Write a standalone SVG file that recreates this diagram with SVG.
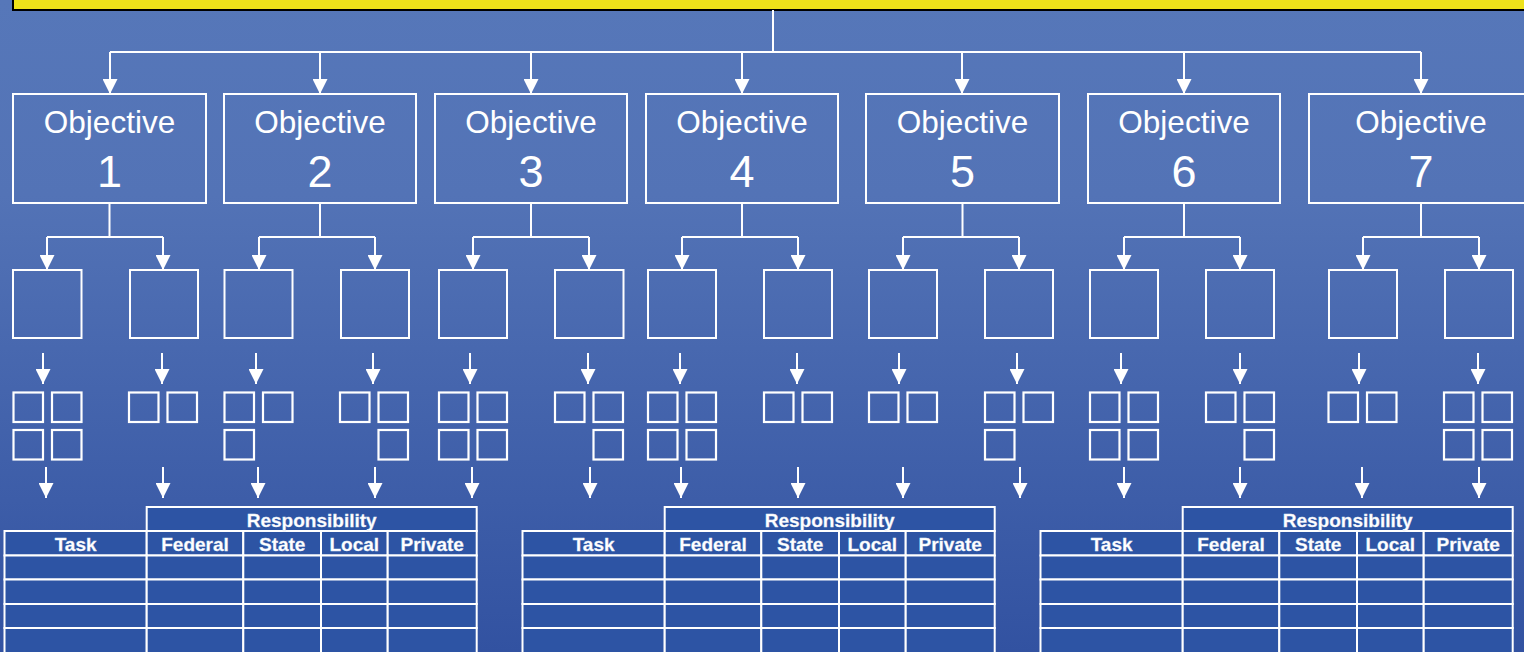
<svg xmlns="http://www.w3.org/2000/svg" width="1524" height="652" viewBox="0 0 1524 652" font-family="Liberation Sans, Arial, Helvetica, sans-serif">
<defs>
<linearGradient id="bg" x1="0" y1="0" x2="0" y2="1">
<stop offset="0" stop-color="#5677b9"/>
<stop offset="0.3" stop-color="#5373b6"/>
<stop offset="1" stop-color="#3252a1"/>
</linearGradient>
<marker id="ah" viewBox="0 0 15 15" refX="15" refY="7.5" markerWidth="15" markerHeight="15" markerUnits="userSpaceOnUse" orient="auto">
<path d="M0,0 L15,7.5 L0,15 z" fill="#ffffff"/>
</marker>
<g id="tbl">
<rect class="cell" x="146.7" y="507" width="330" height="24"/>
<rect class="cell" x="4.5" y="531" width="142.2" height="24.5"/>
<rect class="cell" x="146.7" y="531" width="96.6" height="24.5"/>
<rect class="cell" x="243.3" y="531" width="77.7" height="24.5"/>
<rect class="cell" x="321" y="531" width="66.7" height="24.5"/>
<rect class="cell" x="387.7" y="531" width="89" height="24.5"/>
<rect class="cell" x="4.5" y="555.5" width="142.2" height="24"/>
<rect class="cell" x="146.7" y="555.5" width="96.6" height="24"/>
<rect class="cell" x="243.3" y="555.5" width="77.7" height="24"/>
<rect class="cell" x="321" y="555.5" width="66.7" height="24"/>
<rect class="cell" x="387.7" y="555.5" width="89" height="24"/>
<rect class="cell" x="4.5" y="579.5" width="142.2" height="24.5"/>
<rect class="cell" x="146.7" y="579.5" width="96.6" height="24.5"/>
<rect class="cell" x="243.3" y="579.5" width="77.7" height="24.5"/>
<rect class="cell" x="321" y="579.5" width="66.7" height="24.5"/>
<rect class="cell" x="387.7" y="579.5" width="89" height="24.5"/>
<rect class="cell" x="4.5" y="604" width="142.2" height="24"/>
<rect class="cell" x="146.7" y="604" width="96.6" height="24"/>
<rect class="cell" x="243.3" y="604" width="77.7" height="24"/>
<rect class="cell" x="321" y="604" width="66.7" height="24"/>
<rect class="cell" x="387.7" y="604" width="89" height="24"/>
<rect class="cell" x="4.5" y="628" width="142.2" height="40"/>
<rect class="cell" x="146.7" y="628" width="96.6" height="40"/>
<rect class="cell" x="243.3" y="628" width="77.7" height="40"/>
<rect class="cell" x="321" y="628" width="66.7" height="40"/>
<rect class="cell" x="387.7" y="628" width="89" height="40"/>
<text class="th" x="311.7" y="526.5">Responsibility</text>
<text class="th" x="75.6" y="550.5">Task</text>
<text class="th" x="195" y="550.5">Federal</text>
<text class="th" x="282.2" y="550.5">State</text>
<text class="th" x="354.3" y="550.5">Local</text>
<text class="th" x="432.2" y="550.5">Private</text>
</g>
</defs>
<style>
.box{fill:none;stroke:#ffffff;stroke-width:2}
.sq{fill:none;stroke:#ffffff;stroke-width:2.2}
.con{fill:none;stroke:#ffffff;stroke-width:2}
.arr{fill:none;stroke:#ffffff;stroke-width:2;marker-end:url(#ah)}
.cell{fill:#2d54a4;stroke:#ffffff;stroke-width:2}
.th{fill:#ffffff;text-anchor:middle;font-weight:bold;font-size:19px;stroke:#dfe6f3;stroke-width:0.3px}
.ot{fill:#ffffff;text-anchor:middle;font-size:31.5px}
.on{fill:#ffffff;text-anchor:middle;font-size:45px}
</style>
<rect x="0" y="0" width="1524" height="652" fill="url(#bg)"/>

<g id="goal">
<rect x="13" y="-10" width="1530" height="20" fill="#eee21a" stroke="#000000" stroke-width="2"/>
</g>

<g id="connectors">
<path class="con" d="M773,10 V52"/>
<path class="con" d="M110,52 H1421"/>
<path class="arr" d="M110,52 V94"/>
<path class="arr" d="M320,52 V94"/>
<path class="arr" d="M531,52 V94"/>
<path class="arr" d="M742,52 V94"/>
<path class="arr" d="M962,52 V94"/>
<path class="arr" d="M1184,52 V94"/>
<path class="arr" d="M1421,52 V94"/>
<path class="con" d="M109.5,203 V237 M47,237 H163"/>
<path class="con" d="M320,203 V237 M259,237 H375"/>
<path class="con" d="M531,203 V237 M473,237 H589"/>
<path class="con" d="M742,203 V237 M682,237 H798"/>
<path class="con" d="M962.5,203 V237 M903,237 H1019"/>
<path class="con" d="M1184,203 V237 M1124,237 H1240"/>
<path class="con" d="M1421,203 V237 M1363,237 H1479"/>
<path class="arr" d="M47,237 V270"/><path class="arr" d="M163,237 V270"/>
<path class="arr" d="M259,237 V270"/><path class="arr" d="M375,237 V270"/>
<path class="arr" d="M473,237 V270"/><path class="arr" d="M589,237 V270"/>
<path class="arr" d="M682,237 V270"/><path class="arr" d="M798,237 V270"/>
<path class="arr" d="M903,237 V270"/><path class="arr" d="M1019,237 V270"/>
<path class="arr" d="M1124,237 V270"/><path class="arr" d="M1240,237 V270"/>
<path class="arr" d="M1363,237 V270"/><path class="arr" d="M1479,237 V270"/>
<path class="arr" d="M43,353 V384"/><path class="arr" d="M162,353 V384"/>
<path class="arr" d="M256,353 V384"/><path class="arr" d="M373,353 V384"/>
<path class="arr" d="M470,353 V384"/><path class="arr" d="M588,353 V384"/>
<path class="arr" d="M680,353 V384"/><path class="arr" d="M797,353 V384"/>
<path class="arr" d="M899,353 V384"/><path class="arr" d="M1017,353 V384"/>
<path class="arr" d="M1121,353 V384"/><path class="arr" d="M1240,353 V384"/>
<path class="arr" d="M1359,353 V384"/><path class="arr" d="M1478,353 V384"/>
<path class="arr" d="M46,467 V498"/><path class="arr" d="M163,467 V498"/>
<path class="arr" d="M258,467 V498"/><path class="arr" d="M375,467 V498"/>
<path class="arr" d="M472,467 V498"/><path class="arr" d="M590,467 V498"/>
<path class="arr" d="M681,467 V498"/><path class="arr" d="M798,467 V498"/>
<path class="arr" d="M903,467 V498"/><path class="arr" d="M1020,467 V498"/>
<path class="arr" d="M1124,467 V498"/><path class="arr" d="M1240,467 V498"/>
<path class="arr" d="M1362,467 V498"/><path class="arr" d="M1479,467 V498"/>
</g>

<g id="objective-1"><rect class="box" x="13" y="94" width="193" height="109"/><text class="ot" x="109.5" y="132.5">Objective</text><text class="on" x="109.5" y="187">1</text></g>
<g id="objective-2"><rect class="box" x="224" y="94" width="192" height="109"/><text class="ot" x="320" y="132.5">Objective</text><text class="on" x="320" y="187">2</text></g>
<g id="objective-3"><rect class="box" x="435" y="94" width="192" height="109"/><text class="ot" x="531" y="132.5">Objective</text><text class="on" x="531" y="187">3</text></g>
<g id="objective-4"><rect class="box" x="646" y="94" width="192" height="109"/><text class="ot" x="742" y="132.5">Objective</text><text class="on" x="742" y="187">4</text></g>
<g id="objective-5"><rect class="box" x="866" y="94" width="193" height="109"/><text class="ot" x="962.5" y="132.5">Objective</text><text class="on" x="962.5" y="187">5</text></g>
<g id="objective-6"><rect class="box" x="1088" y="94" width="192" height="109"/><text class="ot" x="1184" y="132.5">Objective</text><text class="on" x="1184" y="187">6</text></g>
<g id="objective-7"><rect class="box" x="1309" y="94" width="224" height="109"/><text class="ot" x="1421" y="132.5">Objective</text><text class="on" x="1421" y="187">7</text></g>

<g id="sub-1a"><rect class="box" x="13" y="270" width="68.5" height="68"/></g>
<g id="sub-1b"><rect class="box" x="130" y="270" width="68" height="68"/></g>
<g id="sub-2a"><rect class="box" x="224.5" y="270" width="68" height="68"/></g>
<g id="sub-2b"><rect class="box" x="341" y="270" width="68" height="68"/></g>
<g id="sub-3a"><rect class="box" x="439" y="270" width="68" height="68"/></g>
<g id="sub-3b"><rect class="box" x="555" y="270" width="68.5" height="68"/></g>
<g id="sub-4a"><rect class="box" x="648" y="270" width="68" height="68"/></g>
<g id="sub-4b"><rect class="box" x="764" y="270" width="68" height="68"/></g>
<g id="sub-5a"><rect class="box" x="869" y="270" width="68" height="68"/></g>
<g id="sub-5b"><rect class="box" x="985" y="270" width="68" height="68"/></g>
<g id="sub-6a"><rect class="box" x="1090" y="270" width="68" height="68"/></g>
<g id="sub-6b"><rect class="box" x="1206" y="270" width="68" height="68"/></g>
<g id="sub-7a"><rect class="box" x="1329" y="270" width="68" height="68"/></g>
<g id="sub-7b"><rect class="box" x="1445" y="270" width="68" height="68"/></g>

<g id="items-1a"><rect class="sq" x="13.5" y="392.5" width="29.5" height="29.5"/><rect class="sq" x="52" y="392.5" width="29.5" height="29.5"/><rect class="sq" x="13.5" y="430" width="29.5" height="29.5"/><rect class="sq" x="52" y="430" width="29.5" height="29.5"/></g>
<g id="items-1b"><rect class="sq" x="129" y="392.5" width="29.5" height="29.5"/><rect class="sq" x="167.5" y="392.5" width="29.5" height="29.5"/></g>
<g id="items-2a"><rect class="sq" x="224.5" y="392.5" width="29.5" height="29.5"/><rect class="sq" x="263" y="392.5" width="29.5" height="29.5"/><rect class="sq" x="224.5" y="430" width="29.5" height="29.5"/></g>
<g id="items-2b"><rect class="sq" x="340" y="392.5" width="29.5" height="29.5"/><rect class="sq" x="378.5" y="392.5" width="29.5" height="29.5"/><rect class="sq" x="378.5" y="430" width="29.5" height="29.5"/></g>
<g id="items-3a"><rect class="sq" x="439" y="392.5" width="29.5" height="29.5"/><rect class="sq" x="477.5" y="392.5" width="29.5" height="29.5"/><rect class="sq" x="439" y="430" width="29.5" height="29.5"/><rect class="sq" x="477.5" y="430" width="29.5" height="29.5"/></g>
<g id="items-3b"><rect class="sq" x="555" y="392.5" width="29.5" height="29.5"/><rect class="sq" x="593.5" y="392.5" width="29.5" height="29.5"/><rect class="sq" x="593.5" y="430" width="29.5" height="29.5"/></g>
<g id="items-4a"><rect class="sq" x="648" y="392.5" width="29.5" height="29.5"/><rect class="sq" x="686.5" y="392.5" width="29.5" height="29.5"/><rect class="sq" x="648" y="430" width="29.5" height="29.5"/><rect class="sq" x="686.5" y="430" width="29.5" height="29.5"/></g>
<g id="items-4b"><rect class="sq" x="764" y="392.5" width="29.5" height="29.5"/><rect class="sq" x="802.5" y="392.5" width="29.5" height="29.5"/></g>
<g id="items-5a"><rect class="sq" x="869" y="392.5" width="29.5" height="29.5"/><rect class="sq" x="907.5" y="392.5" width="29.5" height="29.5"/></g>
<g id="items-5b"><rect class="sq" x="985" y="392.5" width="29.5" height="29.5"/><rect class="sq" x="1023.5" y="392.5" width="29.5" height="29.5"/><rect class="sq" x="985" y="430" width="29.5" height="29.5"/></g>
<g id="items-6a"><rect class="sq" x="1090" y="392.5" width="29.5" height="29.5"/><rect class="sq" x="1128.5" y="392.5" width="29.5" height="29.5"/><rect class="sq" x="1090" y="430" width="29.5" height="29.5"/><rect class="sq" x="1128.5" y="430" width="29.5" height="29.5"/></g>
<g id="items-6b"><rect class="sq" x="1206" y="392.5" width="29.5" height="29.5"/><rect class="sq" x="1244.5" y="392.5" width="29.5" height="29.5"/><rect class="sq" x="1244.5" y="430" width="29.5" height="29.5"/></g>
<g id="items-7a"><rect class="sq" x="1328.5" y="392.5" width="29.5" height="29.5"/><rect class="sq" x="1367" y="392.5" width="29.5" height="29.5"/></g>
<g id="items-7b"><rect class="sq" x="1444" y="392.5" width="29.5" height="29.5"/><rect class="sq" x="1482.5" y="392.5" width="29.5" height="29.5"/><rect class="sq" x="1444" y="430" width="29.5" height="29.5"/><rect class="sq" x="1482.5" y="430" width="29.5" height="29.5"/></g>

<g id="table-1"><use href="#tbl"/></g>
<g id="table-2" transform="translate(518,0)"><use href="#tbl"/></g>
<g id="table-3" transform="translate(1036,0)"><use href="#tbl"/></g>
</svg>
